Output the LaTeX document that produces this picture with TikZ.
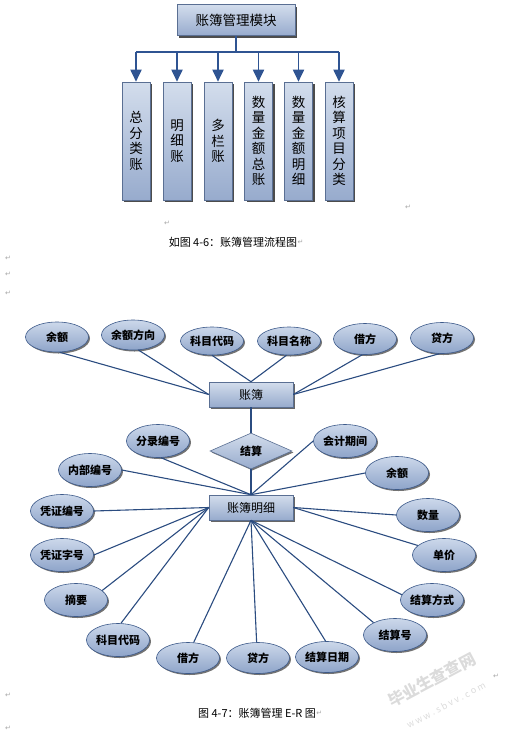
\documentclass[tikz,border=0pt]{standalone}
\usepackage{fontspec}
\newfontfamily\cjk{Noto Sans CJK SC}
\newfontfamily\dejavu{DejaVu Sans}
\usetikzlibrary{shapes.geometric,shadows,arrows.meta}
\definecolor{lineblue}{HTML}{2B4C80}
\definecolor{boxedge}{HTML}{5A6F93}
\definecolor{boxtop}{HTML}{D3DDEC}
\definecolor{boxbot}{HTML}{97ABCD}
\definecolor{attedge}{HTML}{3D5A8A}
\definecolor{attop}{HTML}{CCD8EA}
\definecolor{atbot}{HTML}{8EA4C9}
\definecolor{arrowblue}{HTML}{2F5492}
\begin{document}
\begin{tikzpicture}[x=1pt,y=-1pt,
  box/.style={draw=boxedge, line width=0.6pt, top color=boxtop, bottom color=boxbot,
    drop shadow={shadow xshift=2pt, shadow yshift=-2pt, fill=black!70, opacity=1},
    font=\cjk\fontsize{13.5}{15.5}\selectfont, inner sep=0pt, align=center},
  vbox/.style={box, minimum width=28pt, minimum height=118pt},
  attr/.style={ellipse, draw=attedge, line width=0.6pt, top color=attop, bottom color=atbot,
    minimum width=63pt, minimum height=33pt, inner sep=0pt,
    font=\cjk\bfseries\fontsize{11}{13}\selectfont,
    drop shadow={shadow xshift=1.5pt, shadow yshift=-1.5pt, fill=black!55, opacity=1}},
  ent/.style={rectangle, draw=boxedge, line width=0.6pt, top color=boxtop, bottom color=boxbot,
    minimum width=84pt, minimum height=25pt, inner sep=0pt,
    font=\cjk\fontsize{12}{14}\selectfont,
    drop shadow={shadow xshift=1.5pt, shadow yshift=-1.5pt, fill=black!60, opacity=1}},
  rel/.style={diamond, aspect=2.28, draw=boxedge, line width=0.6pt, top color=boxtop, bottom color=boxbot,
    minimum width=82pt, minimum height=36pt, inner sep=0pt,
    font=\cjk\bfseries\fontsize{11}{13}\selectfont,
    drop shadow={shadow xshift=1.5pt, shadow yshift=-1.5pt, fill=black!55, opacity=1}},
  conn/.style={draw=lineblue, line width=1.1pt},
  bus/.style={draw=arrowblue, line width=1.8pt},
  arr/.style={bus, -{Triangle[width=11pt,length=12pt]}},
  captext/.style={font=\cjk\fontsize{11}{13}\selectfont, inner sep=0pt},
  pmark/.style={font=\dejavu\fontsize{7}{8}\selectfont, text=gray!70, inner sep=0pt},
  wm/.style={text=gray!28, rotate=28, inner sep=0pt}
]
\useasboundingbox (0,0) rectangle (507,732);

% ---------- module chart ----------
\node[box, minimum width=118pt, minimum height=31pt] (tb) at (236,20) {账簿管理模块};
\node[vbox] (b1) at (136,141) {总\\分\\类\\账};
\node[vbox] (b2) at (177,141) {明\\细\\账};
\node[vbox] (b3) at (218,141) {多\\栏\\账};
\node[vbox] (b4) at (258.5,141) {数\\量\\金\\额\\总\\账};
\node[vbox] (b5) at (298.5,141) {数\\量\\金\\额\\明\\细};
\node[vbox] (b6) at (339,141) {核\\算\\项\\目\\分\\类};
\coordinate (bj) at (236,52);
\draw[bus] (tb.south) -- (bj);
\draw[bus] (b1.north |- bj) -- (b6.north |- bj);
\foreach \b in {b1,b2,b3,b4,b5,b6}
  \draw[arr] (\b.north |- bj) -- (\b.north);

\node[captext] (cap1) at (233,242) {如图 4-6：账簿管理流程图};

% ---------- E-R diagram ----------
\node[ent] (zb) at (251,394.5) {账簿};
\node[rel] (js) at (251,451) {结算};
\node[ent] (mx) at (251,507.5) {账簿明细};

\node[attr, minimum height=30pt] (a1) at (57,337) {余额};
\node[attr, minimum height=30pt] (a2) at (133,335) {余额方向};
\node[attr, minimum height=28pt] (a3) at (212,341) {科目代码};
\node[attr, minimum height=28pt] (a4) at (289,341) {科目名称};
\node[attr, minimum height=31pt] (a5) at (365,339) {借方};
\node[attr, minimum height=31pt] (a6) at (442,338) {贷方};

\node[attr] (c1) at (158,441) {分录编号};
\node[attr] (c2) at (90,470) {内部编号};
\node[attr] (c3) at (62,511) {凭证编号};
\node[attr] (c4) at (62,555) {凭证字号};
\node[attr] (c5) at (76,600) {摘要};
\node[attr] (c6) at (118,640) {科目代码};
\node[attr, minimum height=31pt] (c7) at (188,658) {借方};
\node[attr, minimum height=31pt] (c8) at (258,658) {贷方};
\node[attr, minimum height=31pt] (c9) at (327,657) {结算日期};
\node[attr] (c10) at (395,635) {结算号};
\node[attr] (c11) at (432,600) {结算方式};
\node[attr] (c12) at (444,555) {单价};
\node[attr] (c13) at (428,515) {数量};
\node[attr] (c14) at (397,473) {余额};
\node[attr] (c15) at (345,441) {会计期间};

\draw[conn] (a1.-80) -- (zb.west);
\draw[conn] (a2.-70) -- (zb.west);
\draw[conn] (a3.-90) -- (zb.north);
\draw[conn] (a4.-100) -- (zb.north);
\draw[conn] (a5.-100) -- (zb.east);
\draw[conn] (a6.-100) -- (zb.east);
\draw[conn] (zb.south) -- (js.north);
\draw[conn] (js.south) -- (mx.north);

\draw[conn] (c1.-80) -- (mx.north);
\draw[conn] (c2.east) -- (mx.north);
\draw[conn] (c15.west) -- (mx.north);
\draw[conn] (c14.west) -- (mx.north);
\draw[conn] (c3.east) -- (mx.west);
\draw[conn] (c4.east) -- (mx.west);
\draw[conn] (c5.20) -- (mx.west);
\draw[conn] (c6.80) -- (mx.west);
\draw[conn] (c7.70) -- (mx.south);
\draw[conn] (c8.95) -- (mx.south);
\draw[conn] (c9.95) -- (mx.south);
\draw[conn] (c10.150) -- (mx.south);
\draw[conn] (c11.170) -- (mx.south);
\draw[conn] (c13.west) -- (mx.east);
\draw[conn] (c12.160) -- (mx.east);

\node[captext] (cap2) at (257,713) {图 4-7：账簿管理 E-R 图};

% ---------- watermark ----------
\node[wm, font=\cjk\bfseries\fontsize{16}{18}\selectfont] (wm1) at (432,680) {毕业生查查网};
\node[wm, font=\cjk\fontsize{9}{11}\selectfont] (wm2) at (446,705) {w w w . s b v v . c o m};

% ---------- paragraph marks ----------
\node[pmark] (p1) at (408,207) {↵};
\node[pmark] (p2) at (167,223) {↵};
\node[pmark, anchor=west] (p3) at (cap1.east) {↵};
\node[pmark] (p4) at (8,258) {↵};
\node[pmark] (p5) at (8,274) {↵};
\node[pmark] (p6) at (8,293) {↵};
\node[pmark] (p7) at (496,676) {↵};
\node[pmark] (p8) at (8,695) {↵};
\node[pmark, anchor=west] (p9) at (cap2.east) {↵};
\node[pmark] (p10) at (8,728) {↵};
\end{tikzpicture}
\end{document}
